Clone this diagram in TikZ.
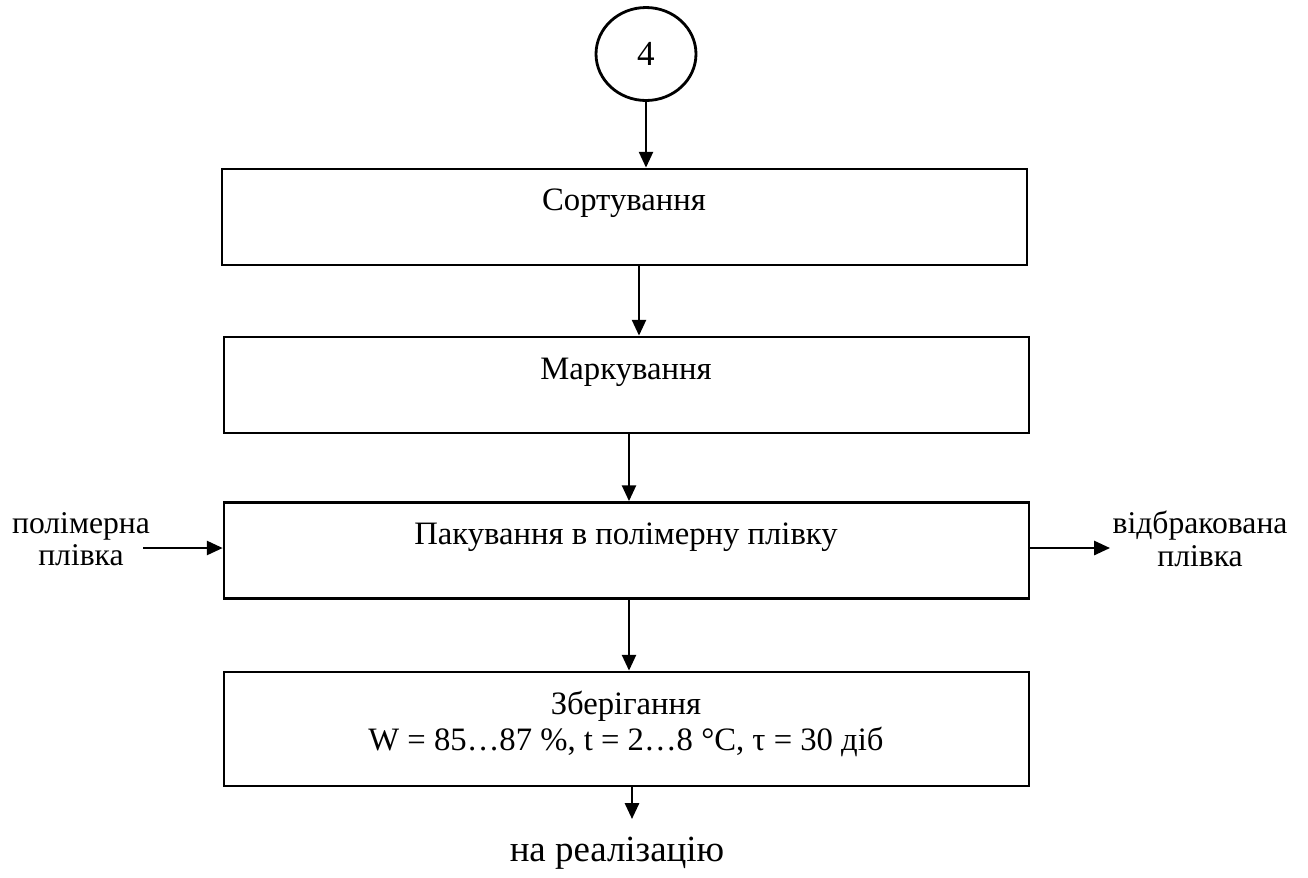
\documentclass[tikz,border=0pt]{standalone}
\usepackage{fontspec}
\setmainfont{Liberation Serif}
\usetikzlibrary{arrows.meta,shapes.geometric}
\begin{document}
\begin{tikzpicture}[x=0.02cm, y=-0.02cm, >={Triangle[width=8pt,length=9pt]}, line width=1.3pt,
  every node/.style={font=\fontsize{18.6}{20.5}\selectfont, align=center, inner sep=0pt},
  stage/.style={draw, line width=1.6pt, minimum width=16.1cm, minimum height=1.92cm}]
\useasboundingbox (0,0) rectangle (1308,877);
\node[draw, ellipse, line width=1.6pt, minimum width=2cm, minimum height=1.86cm, font=\fontsize{20}{24}\selectfont] (c4) at (646,54) {4};
\node[stage] (b1) at (624.5,217) {};
\node[stage] (b2) at (626.5,385) {};
\node[stage] (b3) at (626.5,550.5) {};
\node[stage, minimum height=2.28cm] (b4) at (626.5,729) {};
\node (t1) at (624,203) {Сортування};
\node (t2) at (626,372) {Маркування};
\node (t3) at (626,537) {Пакування в полімерну плівку};
\node (t4) at (626,724) {Зберігання\\W = 85…87 \%, t = 2…8 °C, τ = 30 діб};
\node[font=\fontsize{18}{18.5}\selectfont] (pin) at (81,539) {полімерна\\плівка};
\node[font=\fontsize{18}{18.5}\selectfont] (pout) at (1200,539) {відбракована\\плівка};
\node[font=\fontsize{21}{24}\selectfont] (real) at (617,853) {на реалізацію};
\coordinate (inL) at (143,548);
\coordinate (outR) at (1110,548);
\coordinate (endR) at (632,819);
\draw[->] (c4) -- (c4 |- b1.north);
\foreach \a/\b/\x in {b1/b2/639, b2/b3/629, b3/b4/629}
  \draw[->] (\a.south -| \x,0) -- (\b.north -| \x,0);
\draw[->] (inL) -- (inL -| b3.west);
\draw[->] (outR -| b3.east) -- (outR);
\draw[->] (b4.south -| endR) -- (endR);
\end{tikzpicture}
\end{document}
